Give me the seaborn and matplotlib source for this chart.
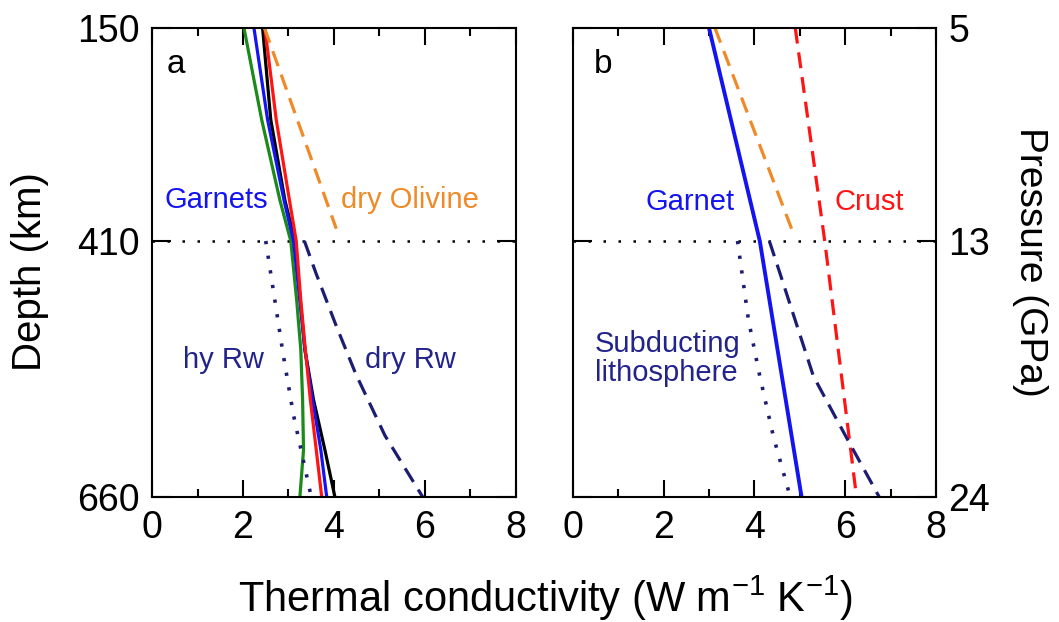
import numpy as np
import pandas as pd
import matplotlib
matplotlib.use("Agg")
import matplotlib.pyplot as plt
import seaborn as sns

# ---------------- data ----------------
# panel a (mantle minerals)
depth_a_solid = [150, 262, 360, 410, 468, 516, 565, 614, 660]
green_a = [2.02, 2.41, 2.81, 3.05, 3.18, 3.27, 3.31, 3.33, 3.25]
blue_a = [2.24, 2.54, 2.90, 3.11, 3.25, 3.36, 3.53, 3.71, 3.84]
black_a = [2.43, 2.61, 2.92, 3.14, 3.26, 3.36, 3.55, 3.80, 4.02]
red_a = [2.48, 2.73, 3.02, 3.17, 3.27, 3.37, 3.48, 3.61, 3.73]

olivine_depth = [150, 395]
olivine_a = [2.47, 4.05]
hyrw_a_depth = [410, 520, 580, 660]
hyrw_a = [2.50, 2.88, 3.11, 3.50]
dryrw_a_depth = [410, 441, 493, 540, 600, 660]
dryrw_a = [3.35, 3.60, 4.05, 4.48, 5.12, 5.95]

# panel b (subducting slab)
garnet_b_depth = [150, 410, 660]
garnet_b = [3.00, 4.12, 5.04]
olivine_b = [3.13, 4.82]
crust_b_depth = [150, 410, 660]
crust_b = [4.90, 5.55, 6.25]
dryrw_b_depth = [410, 441, 542, 598, 660]
dryrw_b = [4.33, 4.56, 5.30, 5.98, 6.75]
hyrw_b_depth = [410, 487, 542, 601, 660]
hyrw_b = [3.63, 3.87, 4.12, 4.42, 4.79]

depth_ticks = [150, 410, 660]
depth_labels = ["150", "410", "660"]
pressure_labels = ["5", "13", "24"]
x_ticks = [0, 2, 4, 6, 8]

# ---------------- style ----------------
sns.set_style("ticks")
plt.rcParams["font.family"] = ["Liberation Sans", "DejaVu Sans"]
plt.rcParams["mathtext.default"] = "regular"
for key in ("text.color", "axes.labelcolor", "xtick.color", "ytick.color", "axes.edgecolor"):
    plt.rcParams[key] = "black"

C_GREEN = "#1b8a1b"
C_BLUE = "#1414f0"
C_RED = "#ff1414"
C_ORANGE = "#f08a28"
C_NAVY = "#1c1c72"
C_TXTNAVY = "#23238c"

W, H = 1059, 622
fig = plt.figure(figsize=(W / 100, H / 100), dpi=100)
ax_a = fig.add_axes([152 / W, 1 - 497 / H, (516 - 152) / W, (497 - 27.7) / H])
ax_b = fig.add_axes([572.7 / W, 1 - 497 / H, (936 - 572.7) / W, (497 - 27.7) / H])

F410 = 0.4545


def fwd(d):
    d = np.asarray(d, float)
    return np.where(d <= 410, (d - 150) / 260 * F410, F410 + (d - 410) / 250 * (1 - F410))


def inv(f):
    f = np.asarray(f, float)
    return np.where(f <= F410, 150 + f / F410 * 260, 410 + (f - F410) / (1 - F410) * 250)


def line(ax, x, y, color, lw=2.3, ls="-"):
    df = pd.DataFrame({"k": x, "depth": y})
    sns.lineplot(data=df, x="k", y="depth", ax=ax, color=color, lw=lw,
                 linestyle=ls, sort=False, estimator=None, legend=False)


DASH = (0, (5, 2.8))
DOT = (0, (0.9, 3.2))

# panel a
line(ax_a, green_a, depth_a_solid, C_GREEN)
line(ax_a, black_a, depth_a_solid, "black")
line(ax_a, blue_a, depth_a_solid, C_BLUE)
line(ax_a, red_a, depth_a_solid, C_RED)
line(ax_a, olivine_a, olivine_depth, C_ORANGE, lw=2.3, ls=DASH)
line(ax_a, hyrw_a, hyrw_a_depth, C_NAVY, lw=2.6, ls=DOT)
line(ax_a, dryrw_a, dryrw_a_depth, C_NAVY, lw=2.3, ls=DASH)

# panel b
line(ax_b, olivine_b, olivine_depth, C_ORANGE, lw=2.3, ls=DASH)
line(ax_b, crust_b, crust_b_depth, C_RED, lw=2.3, ls=DASH)
line(ax_b, dryrw_b, dryrw_b_depth, C_NAVY, lw=2.3, ls=DASH)
line(ax_b, hyrw_b, hyrw_b_depth, C_NAVY, lw=2.6, ls=DOT)
line(ax_b, garnet_b, garnet_b_depth, C_BLUE, lw=2.8)

for ax in (ax_a, ax_b):
    ax.set_yscale("function", functions=(fwd, inv))
    ax.set_ylim(660, 150)
    ax.set_xlim(0, 8)
    ax.axhline(410, color="black", lw=1.8, ls=(0, (1, 5)), zorder=0)
    ax.set_xticks(x_ticks)
    ax.set_xticks([1, 3, 5, 7], minor=True)
    ax.set_yticks(depth_ticks)
    ax.yaxis.set_minor_locator(matplotlib.ticker.NullLocator())
    ax.tick_params(axis="both", which="both", direction="in", top=True, right=True,
                   width=1.5, labelsize=27, colors="black")
    ax.tick_params(axis="x", which="major", length=12, pad=9)
    ax.tick_params(axis="x", which="minor", length=5.5)
    ax.tick_params(axis="y", which="major", length=14, pad=9)
    for s in ax.spines.values():
        s.set_linewidth(1.5)
        s.set_color("black")
    ax.set_xlabel("")
    ax.set_ylabel("")

ax_a.set_yticklabels(depth_labels)
ax_b.set_yticklabels(pressure_labels)
ax_b.tick_params(axis="y", labelleft=False, labelright=True)

# panel letters and annotations
ax_a.text(0.53, 195, "a", fontsize=24, ha="center", va="center")
ax_b.text(0.66, 195, "b", fontsize=24, ha="center", va="center")

ax_a.text(1.42, 360, "Garnets", color=C_BLUE, fontsize=21, ha="center", va="center")
ax_a.text(5.67, 360, "dry Olivine", color=C_ORANGE, fontsize=21, ha="center", va="center")
ax_a.text(1.56, 526, "hy Rw", color=C_TXTNAVY, fontsize=21, ha="center", va="center")
ax_a.text(5.67, 526, "dry Rw", color=C_TXTNAVY, fontsize=21, ha="center", va="center")

ax_b.text(2.58, 362, "Garnet", color=C_BLUE, fontsize=21, ha="center", va="center")
ax_b.text(6.54, 362, "Crust", color=C_RED, fontsize=21, ha="center", va="center")
ax_b.text(0.49, 525, "Subducting\nlithosphere", color=C_TXTNAVY, fontsize=21,
          ha="left", va="center", linespacing=1.05)

fig.text(30 / W, 1 - 272 / H, "Depth (km)", rotation=90, fontsize=29, ha="center", va="center")
fig.text(1030 / W, 1 - 262 / H, "Pressure (GPa)", rotation=270, fontsize=28, ha="center", va="center")
fig.text(545 / W, 1 - 598 / H, r"Thermal conductivity (W m$^{\mathregular{-1}}$ K$^{\mathregular{-1}}$)",
         fontsize=30, ha="center", va="center")

fig.savefig("out.png", dpi=100)
